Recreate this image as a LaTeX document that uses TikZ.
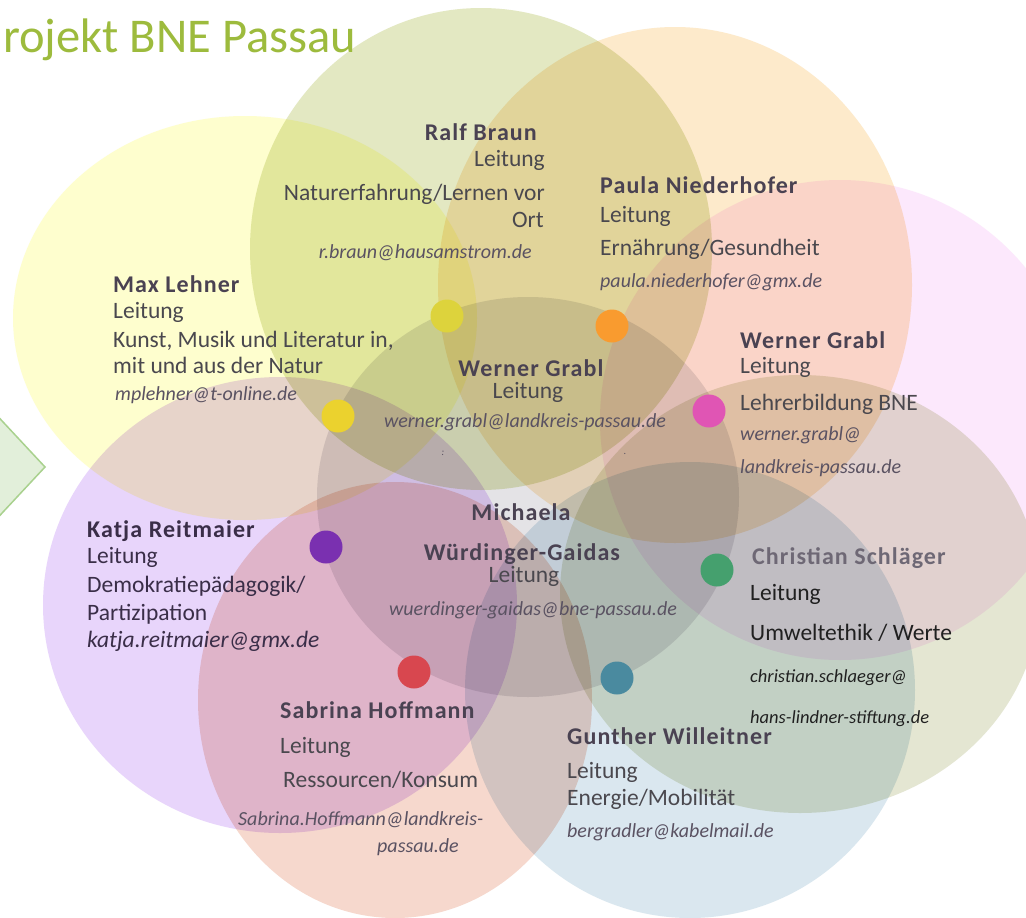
\documentclass[tikz,border=0pt]{standalone}
\usepackage{fontspec}
\setmainfont{Carlito}

\definecolor{titlecol}{HTML}{9DBB3D}
\definecolor{namecol}{HTML}{4A4252}
\definecolor{txtcol}{HTML}{4A484E}
\definecolor{mailcol}{HTML}{5A5262}
\definecolor{katcol}{HTML}{3A2E48}
\definecolor{blackcol}{HTML}{202020}
\definecolor{arrowfill}{HTML}{E2EFDA}
\definecolor{arrowline}{HTML}{A9D18E}
% circle fills
\definecolor{cMid}{HTML}{E4E3E6}
\definecolor{cBraun}{HTML}{E3E8C2}
\definecolor{cNieder}{HTML}{FDEACB}
\definecolor{cGrabl}{HTML}{FCE8FC}
\definecolor{cLehner}{HTML}{FEFECE}
\definecolor{cReit}{HTML}{E8D5FB}
\definecolor{cHoff}{HTML}{F6D8CD}
\definecolor{cWill}{HTML}{DAE7EF}
\definecolor{cSchl}{HTML}{E4E6D2}
% dots
\definecolor{dBraun}{HTML}{DDD33C}
\definecolor{dLehner}{HTML}{EBD22E}
\definecolor{dNieder}{HTML}{F99B2F}
\definecolor{dGrabl}{HTML}{E055B4}
\definecolor{dReit}{HTML}{7A30B0}
\definecolor{dHoff}{HTML}{D8474F}
\definecolor{dWill}{HTML}{4A8A9F}
\definecolor{dSchl}{HTML}{45A06E}

\begin{document}
\begin{tikzpicture}[x=1pt, y=-1pt,
		who/.style={font=\fontsize{24}{26}\selectfont\bfseries\addfontfeature{LetterSpace=4.5}, text=namecol, inner sep=0pt},
		role/.style={font=\fontsize{23.5}{26}\selectfont, text=txtcol, inner sep=0pt},
		mail/.style={font=\fontsize{20}{22}\selectfont\itshape, text=mailcol, inner sep=0pt},
		blob/.style={circle, minimum size=33pt, inner sep=0pt}]
		
		\fill[white] (0,0) rectangle (1026,918);
		\useasboundingbox (0,0) rectangle (1026,918);
		\clip (0,0) rectangle (1026,918);
		
		\foreach \x/\y/\rx/\ry/\c in {528/497/211/200/cMid, 481/249/231/241/cBraun, 675/285/237/258/cNieder, 840/420/240/240/cGrabl, 245/318/232/202/cLehner, 280/605/237/228/cReit, 395/700/197/218/cHoff, 690/690/225/228/cWill, 800/594/240/219/cSchl} {
			\fill[\c, blend mode=multiply] (\x,\y) ellipse [x radius=\rx, y radius=\ry];
		}
		
		\filldraw[fill=arrowfill, draw=arrowline, line width=1.5pt] (-10,408) -- (45,467) -- (-10,526) -- cycle;
		
		\node[anchor=base west, font=\fontsize{48.5}{50}\selectfont, text=titlecol, inner sep=0pt] (title) at (3,52) {rojekt BNE Passau};
		
		\foreach \n/\x/\y/\c in {braun/447/316/dBraun, lehner/338/416/dLehner, nieder/612/326/dNieder, grabl/709/411/dGrabl, reit/326/547/dReit, hoff/414/672/dHoff, will/617/678/dWill, schl/717/570/dSchl}
			\node[blob, fill=\c] (dot-\n) at (\x,\y) {};
		
		% Ralf Braun
		\node[who, anchor=base east] (braun-n) at (537,140) {Ralf Braun};
		\node[role, anchor=base east] (braun-l) at (545,166) {Leitung};
		\node[role, anchor=base east] (braun-t1) at (545,200) {Naturerfahrung/Lernen vor};
		\node[role, anchor=base east] (braun-t2) at (544,227) {Ort};
		\node[mail, anchor=base east] (braun-m) at (532,258) {r.braun@hausamstrom.de};
		
		% Max Lehner
		\node[who, anchor=base west] (lehner-n) at (113,292) {Max Lehner};
		\node[role, anchor=base west] (lehner-l) at (113,318) {Leitung};
		\node[role, anchor=base west] (lehner-t1) at (113,347) {Kunst, Musik und Literatur in,};
		\node[role, anchor=base west] (lehner-t2) at (113,373) {mit und aus der Natur};
		\node[mail, anchor=base west] (lehner-m) at (115,400) {mplehner@t-online.de};
		
		% Paula Niederhofer
		\node[who, anchor=base west] (nieder-n) at (600,193) {Paula Niederhofer};
		\node[role, anchor=base west] (nieder-l) at (600,222) {Leitung};
		\node[role, anchor=base west] (nieder-t) at (600,255) {Ernährung/Gesundheit};
		\node[mail, anchor=base west] (nieder-m) at (600,287) {paula.niederhofer@gmx.de};
		
		% Werner Grabl (Mitte)
		\node[who, anchor=base] (mgrabl-n) at (531,376) {Werner Grabl};
		\node[role, anchor=base] (mgrabl-l) at (528,398) {Leitung};
		\node[mail, anchor=base] (mgrabl-m) at (525,427) {werner.grabl@landkreis-passau.de};
		\node[mail, font=\fontsize{10}{12}\selectfont\itshape, anchor=base] (mark-a) at (443,455) {:};
		\node[mail, font=\fontsize{10}{12}\selectfont, anchor=base] (mark-b) at (625,454) {.};
		
		% Werner Grabl (Lehrerbildung)
		\node[who, anchor=base west] (grabl-n) at (740,348) {Werner Grabl};
		\node[role, anchor=base west] (grabl-l) at (740,373) {Leitung};
		\node[role, anchor=base west] (grabl-t) at (740,410) {Lehrerbildung BNE};
		\node[mail, anchor=base west] (grabl-m1) at (740,440) {werner.grabl@};
		\node[mail, anchor=base west] (grabl-m2) at (740,473) {landkreis-passau.de};
		
		% Michaela Wuerdinger-Gaidas
		\node[who, anchor=base] (wuerd-n1) at (521,520) {Michaela};
		\node[who, anchor=base] (wuerd-n2) at (522,560) {Würdinger-Gaidas};
		\node[role, anchor=base] (wuerd-l) at (524,582) {Leitung};
		\node[mail, anchor=base] (wuerd-m) at (533,615) {wuerdinger-gaidas@bne-passau.de};
		
		% Katja Reitmaier
		\node[who, text=katcol, anchor=base west] (reit-n) at (87,537) {Katja Reitmaier};
		\node[role, text=katcol, anchor=base west] (reit-l) at (87,563) {Leitung};
		\node[role, text=katcol, anchor=base west] (reit-t1) at (87,592) {Demokratiepädagogik/};
		\node[role, text=katcol, anchor=base west] (reit-t2) at (87,620) {Partizipation};
		\node[mail, text=katcol, font=\fontsize{23.5}{25}\selectfont\itshape, anchor=base west] (reit-m) at (87,647) {katja.reitmaier@gmx.de};
		
		% Sabrina Hoffmann
		\node[who, anchor=base west] (hoff-n) at (280,718) {Sabrina Hoffmann};
		\node[role, anchor=base west] (hoff-l) at (280,753) {Leitung};
		\node[role, anchor=base west] (hoff-t) at (283,787) {Ressourcen/Konsum};
		\node[mail, anchor=base west] (hoff-m1) at (238,825) {Sabrina.Hoffmann@landkreis-};
		\node[mail, anchor=base west] (hoff-m2) at (377,852) {passau.de};
		
		% Christian Schlaeger
		\node[who, text=namecol!80!white, anchor=base west] (schl-n) at (752,564) {Christian Schläger};
		\node[role, text=blackcol, anchor=base west] (schl-l) at (750,600) {Leitung};
		\node[role, text=blackcol, anchor=base west] (schl-t) at (750,640) {Umweltethik / Werte};
		\node[mail, text=blackcol, font=\fontsize{18.5}{20}\selectfont\itshape, anchor=base west] (schl-m1) at (750,682) {christian.schlaeger@};
		\node[mail, text=blackcol, font=\fontsize{18.5}{20}\selectfont\itshape, anchor=base west] (schl-m2) at (750,723) {hans-lindner-stiftung.de};
		
		% Gunther Willeitner
		\node[who, anchor=base west] (will-n) at (567,744) {Gunther Willeitner};
		\node[role, anchor=base west] (will-l) at (567,778) {Leitung};
		\node[role, anchor=base west] (will-t) at (567,805) {Energie/Mobilität};
		\node[mail, anchor=base west] (will-m) at (567,837) {bergradler@kabelmail.de};
	\end{tikzpicture}
\end{document}
